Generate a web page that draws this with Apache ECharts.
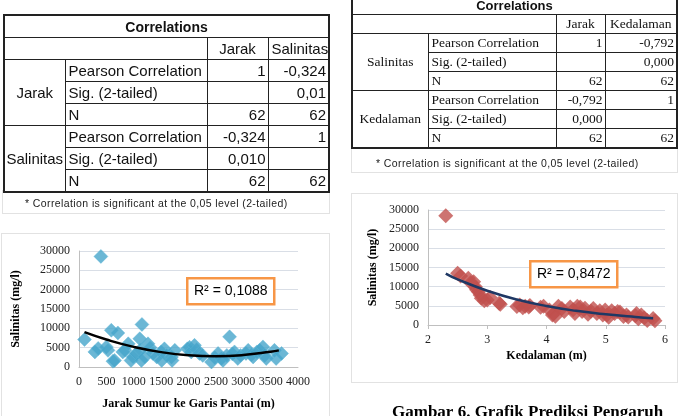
<!DOCTYPE html>
<html>
<head>
<meta charset="utf-8">
<script src="https://cdn.jsdelivr.net/npm/echarts@6/dist/echarts.min.js"></script>
<style>
  html, body { margin: 0; padding: 0; background: #fff; }
  #page { position: relative; width: 683px; height: 416px; overflow: hidden; }
  #chart { position: absolute; left: 0; top: 0; width: 683px; height: 416px; }
  .frame { position: absolute; border: 1px solid #e2e2e2; box-sizing: border-box; }
  table.corr { position: absolute; border-collapse: collapse; table-layout: fixed; background: #fff; }
  table.corr td { border: 1px solid #222; padding: 0 3px; white-space: nowrap; overflow: hidden; color: #111; }
  table.corr td.r { text-align: right; padding-right: 2px; }
  table.corr td.c { text-align: center; }
  table.corr tr.title td { text-align: center; font-family: "Liberation Sans", sans-serif; font-weight: bold; font-size: 14px; }
  #t1 { left: 3px; top: 14px; width: 325px; border: 2px solid #222; font-family: "Liberation Sans", sans-serif; font-size: 15px; }
  #t1 td { height: 21px; }
  #t2 { left: 351px; top: -6px; width: 325px; border: 2px solid #222; font-family: "Liberation Serif", serif; font-size: 13.5px; }
  #t2 td { height: 18px; }
  #t2 tr.title td { font-size: 13px; }
  .note { position: absolute; font-family: "Liberation Sans", sans-serif; font-size: 10.5px; letter-spacing: 0.4px; color: #222; white-space: nowrap; }
</style>
</head>
<body>
<div id="page">
  <div class="frame" style="left:1px;top:233px;width:329px;height:190px;"></div>
  <div class="frame" style="left:351px;top:193px;width:327px;height:190px;"></div>
  <div id="chart"></div>

  <div class="frame" style="left:2px;top:190px;width:328px;height:24px;"></div>
  <div class="note" style="left:25px;top:197px;">* Correlation is significant at the 0,05 level (2-tailed)</div>
  <table class="corr" id="t1">
    <colgroup><col style="width:61px"><col style="width:142px"><col style="width:61px"><col style="width:61px"></colgroup>
    <tr class="title"><td colspan="4">Correlations</td></tr>
    <tr><td colspan="2"></td><td class="c">Jarak</td><td class="c">Salinitas</td></tr>
    <tr><td rowspan="3" class="c">Jarak</td><td>Pearson Correlation</td><td class="r">1</td><td class="r">-0,324</td></tr>
    <tr><td>Sig. (2-tailed)</td><td class="r"></td><td class="r">0,01</td></tr>
    <tr><td>N</td><td class="r">62</td><td class="r">62</td></tr>
    <tr><td rowspan="3" class="c" style="padding:0 1px;">Salinitas</td><td>Pearson Correlation</td><td class="r">-0,324</td><td class="r">1</td></tr>
    <tr><td>Sig. (2-tailed)</td><td class="r">0,010</td><td class="r"></td></tr>
    <tr><td>N</td><td class="r">62</td><td class="r">62</td></tr>
  </table>

  <div class="frame" style="left:351px;top:148px;width:327px;height:25px;"></div>
  <div class="note" style="left:376px;top:157px;">* Correlation is significant at the 0,05 level (2-tailed)</div>
  <table class="corr" id="t2">
    <colgroup><col style="width:76px"><col style="width:128px"><col style="width:49px"><col style="width:72px"></colgroup>
    <tr class="title"><td colspan="4">Correlations</td></tr>
    <tr><td colspan="2"></td><td class="c">Jarak</td><td class="c">Kedalaman</td></tr>
    <tr><td rowspan="3" class="c">Salinitas</td><td>Pearson Correlation</td><td class="r">1</td><td class="r">-0,792</td></tr>
    <tr><td>Sig. (2-tailed)</td><td class="r"></td><td class="r">0,000</td></tr>
    <tr><td>N</td><td class="r">62</td><td class="r">62</td></tr>
    <tr><td rowspan="3" class="c" style="padding:0 1px;">Kedalaman</td><td>Pearson Correlation</td><td class="r">-0,792</td><td class="r">1</td></tr>
    <tr><td>Sig. (2-tailed)</td><td class="r">0,000</td><td class="r"></td></tr>
    <tr><td>N</td><td class="r">62</td><td class="r">62</td></tr>
  </table>
</div>

<script>
// jarak sumur ke garis pantai (m) vs salinitas (mg/l)
var jarakX = [100, 290, 350, 400, 500, 530, 590, 620, 650, 710, 800, 840, 900, 950, 990, 1050,
  1110, 1120, 1140, 1150, 1200, 1260, 1300, 1350, 1420, 1500, 1510, 1560, 1600, 1690, 1700, 1750,
  1980, 2020, 2050, 2110, 2150, 2200, 2260, 2420, 2480, 2540, 2600, 2630, 2700, 2750, 2800, 2840,
  2900, 2950, 3050, 3090, 3150, 3180, 3250, 3300, 3360, 3390, 3420, 3570, 3600, 3700];
var jarakSalinitas = [7100, 3900, 4800, 28600, 5200, 4300, 9500, 1500, 1700, 8800, 3900, 4300, 6000, 1700, 2600, 3500,
  7300, 4400, 1700, 11000, 2600, 6000, 5000, 3500, 2600, 3900, 1700, 4700, 3000, 2600, 1700, 4300,
  4700, 5100, 3900, 5600, 4500, 3500, 3000, 1300, 2400, 3500, 2200, 1700, 3000, 7800, 3400, 3900,
  2200, 3000, 3500, 4300, 3200, 2600, 3900, 4300, 5200, 3000, 2200, 4300, 2200, 3500];
// trendline (poly 2)
var trendJarakX = [100, 500, 1000, 1500, 2000, 2500, 3000, 3500, 3650];
var trendJarakY = [9000, 7100, 5200, 3850, 3050, 2800, 3100, 3950, 4300];

// kedalaman (m) vs salinitas (mg/l)
var kedalamanX = [2.3, 2.5, 2.55, 2.68, 2.72, 2.77, 2.8, 2.82, 2.85, 2.88, 2.9, 2.95, 3.0, 3.05, 3.2, 3.22,
  3.5, 3.55, 3.6, 3.64, 3.7, 3.72, 3.9, 3.95, 4.05, 4.1, 4.12, 4.15, 4.2, 4.26, 4.3, 4.4,
  4.45, 4.48, 4.52, 4.57, 4.6, 4.65, 4.7, 4.75, 4.79, 4.85, 4.9, 4.95, 4.99, 5.02, 5.05, 5.1,
  5.15, 5.2, 5.24, 5.3, 5.35, 5.38, 5.5, 5.52, 5.55, 5.6, 5.65, 5.7, 5.8, 5.83];
var kedalamanSalinitas = [28500, 13500, 12800, 12200, 11000, 11300, 10000, 9200, 8700, 7800, 7000, 6300, 6500, 7200, 5700, 5400,
  4800, 5200, 4500, 4900, 4700, 5100, 4600, 4900, 3900, 2600, 3000, 2300, 4900, 4300, 3500, 4700,
  4000, 3000, 4900, 4700, 3500, 4400, 2800, 3600, 4300, 3000, 3700, 2600, 3900, 2600, 2000, 3700,
  3000, 3500, 3400, 2200, 2600, 2100, 2400, 3000, 1600, 2600, 1800, 1200, 1700, 1100];
// trendline (expon)
var trendKedalamanX = [2.3, 2.5, 3, 3.5, 4, 4.5, 5, 5.5, 5.8];
var trendKedalamanY = [13400, 11900, 8950, 6650, 4950, 3700, 2780, 2080, 1750];

var serif = '"Liberation Serif", "Times New Roman", serif';
var sans = '"Liberation Sans", Arial, sans-serif';

function zip(xs, ys) {
  return xs.map(function (x, i) { return [x, ys[i]]; });
}

function plain(v) {
  return String(v);
}

function yAxisCfg(gridIndex, gap) {
  return {
    gridIndex: gridIndex,
    type: 'value',
    min: 0,
    max: 30000,
    interval: 5000,
    name: 'Salinitas (mg/l)',
    nameLocation: 'middle',
    nameRotate: 90,
    nameGap: gap,
    nameTextStyle: { fontFamily: serif, fontWeight: 'bold', fontSize: 12, color: '#000' },
    axisLine: { show: true, lineStyle: { color: '#bfbfbf', width: 1 } },
    axisTick: { show: false },
    axisLabel: { fontFamily: serif, fontSize: 12, color: '#222', margin: 9, formatter: plain },
    splitLine: { lineStyle: { color: '#d9dee6', width: 1 } }
  };
}

var chart = echarts.init(document.getElementById('chart'));
chart.setOption({
  animation: false,
  grid: [
    { left: 79, top: 251, width: 219, height: 116 },
    { left: 428, top: 210, width: 237, height: 115 }
  ],
  xAxis: [
    {
      gridIndex: 0,
      type: 'value',
      min: 0,
      max: 4000,
      interval: 500,
      name: 'Jarak Sumur ke Garis Pantai (m)',
      nameLocation: 'middle',
      nameGap: 31,
      nameTextStyle: { fontFamily: serif, fontWeight: 'bold', fontSize: 12, color: '#000' },
      axisLine: { lineStyle: { color: '#bfbfbf' } },
      axisTick: { show: false },
      axisLabel: { fontFamily: serif, fontSize: 12, color: '#222', margin: 9, formatter: plain },
      splitLine: { show: false }
    },
    {
      gridIndex: 1,
      type: 'value',
      min: 2,
      max: 6,
      interval: 1,
      name: 'Kedalaman (m)',
      nameLocation: 'middle',
      nameGap: 25,
      nameTextStyle: { fontFamily: serif, fontWeight: 'bold', fontSize: 12, color: '#000' },
      axisLine: { lineStyle: { color: '#bfbfbf' } },
      axisTick: { show: true, length: 4, lineStyle: { color: '#bfbfbf' } },
      axisLabel: { fontFamily: serif, fontSize: 12, color: '#222', margin: 9, formatter: plain },
      splitLine: { show: false }
    }
  ],
  yAxis: [yAxisCfg(0, 57), yAxisCfg(1, 49)],
  series: [
    {
      type: 'scatter',
      xAxisIndex: 0,
      yAxisIndex: 0,
      symbol: 'diamond',
      symbolSize: 14,
      itemStyle: { color: '#46a5cb', borderColor: '#5cb6d8', borderWidth: 0.5 },
      data: zip(jarakX, jarakSalinitas)
    },
    {
      type: 'line',
      xAxisIndex: 0,
      yAxisIndex: 0,
      smooth: true,
      symbol: 'none',
      lineStyle: { color: '#000', width: 2.5 },
      data: zip(trendJarakX, trendJarakY)
    },
    {
      type: 'scatter',
      xAxisIndex: 1,
      yAxisIndex: 1,
      symbol: 'diamond',
      symbolSize: 15,
      itemStyle: { color: '#c0504d' },
      data: zip(kedalamanX, kedalamanSalinitas)
    },
    {
      type: 'line',
      xAxisIndex: 1,
      yAxisIndex: 1,
      smooth: true,
      symbol: 'none',
      lineStyle: { color: '#1f3864', width: 2.5 },
      data: zip(trendKedalamanX, trendKedalamanY)
    }
  ],
  graphic: [
    {
      type: 'group', left: 186, top: 277, z: 100,
      children: [
        { type: 'rect', z: 100, shape: { x: 0, y: 0, width: 87, height: 26 }, style: { fill: '#fff', stroke: '#f79646', lineWidth: 2.5 } },
        { type: 'text', z: 101, x: 43.5, y: 13, style: { text: 'R² = 0,1088', font: '14px ' + sans, fill: '#000', align: 'center', verticalAlign: 'middle' } }
      ]
    },
    {
      type: 'group', left: 529, top: 260, z: 100,
      children: [
        { type: 'rect', z: 100, shape: { x: 0, y: 0, width: 87, height: 26 }, style: { fill: '#fff', stroke: '#f79646', lineWidth: 2.5 } },
        { type: 'text', z: 101, x: 43.5, y: 13, style: { text: 'R² = 0,8472', font: '14px ' + sans, fill: '#000', align: 'center', verticalAlign: 'middle' } }
      ]
    },
    {
      type: 'text', left: 392, top: 404,
      style: { text: 'Gambar 6. Grafik Prediksi Pengaruh', font: 'bold 17px ' + serif, fill: '#000' }
    }
  ]
});
</script>
</body>
</html>
